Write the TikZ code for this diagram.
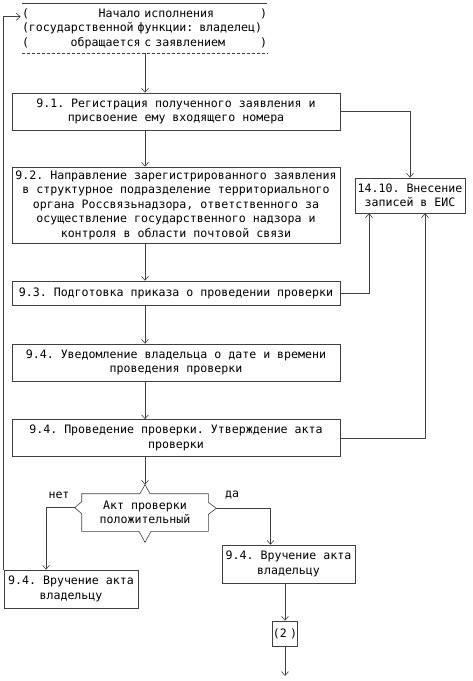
\documentclass[tikz,border=0pt]{standalone}
\usepackage{fontspec}
\setmonofont{DejaVu Sans Mono}
\usepackage{tikz}
\usetikzlibrary{arrows.meta, positioning, calc}

\begin{document}
\begin{tikzpicture}[
    x=1pt, y=-1pt,
    font=\fontsize{11.6}{14.5}\selectfont\ttfamily,
    line width=0.6pt,
    box/.style={draw=black!75, inner xsep=2pt, inner ysep=0pt, align=center,
                minimum height=37pt},
    flow/.style={draw=black!75, -{Straight Barb[length=4pt,width=7pt]}},
    lbl/.style={inner sep=1pt},
  ]
  \useasboundingbox (0,0) rectangle (473,681);
  \coordinate (col) at (145,0);

  % start of the procedure: open block with brackets
  \node[align=left, text width=245pt, inner sep=0pt, minimum height=49pt] (start) at (144.5,28.5)
    {(\hspace{6em}Начало исполнения\hfill)\\
     (государственной функции: владелец)\\
     (\hspace{3.6em}обращается с заявлением\hfill)};
  \draw[black!75] (start.north west) -- (start.north east);
  \draw[black!75, densely dashed] (start.south west) -- (start.south east);

  \node[box, minimum width=328pt] (s91) at (176,111.5)
    {9.1. Регистрация полученного заявления и\\присвоение ему входящего номера};
  \node[box, minimum width=328pt, minimum height=76pt] (s92) at (176,205)
    {9.2. Направление зарегистрированного заявления\\
     в структурное подразделение территориального\\
     органа Россвязьнадзора, ответственного за\\
     осуществление государственного надзора и\\
     контроля в области почтовой связи};
  \node[box, minimum width=328pt, minimum height=24pt] (s93) at (176,293)
    {9.3. Подготовка приказа о проведении проверки};
  \node[box, minimum width=328pt] (s94a) at (176,362.5)
    {9.4. Уведомление владельца о дате и времени\\проведения проверки};
  \node[box, minimum width=328pt] (s94b) at (176,438)
    {9.4. Проведение проверки. Утверждение акта\\проверки};
  \node[box, minimum width=110pt, minimum height=35pt] (eis) at (410,195.5)
    {14.10. Внесение\\записей в ЕИС};

  % decision
  \node[align=center, minimum width=126pt, minimum height=37pt, inner sep=0pt] (dec) at (145,512.5)
    {Акт проверки\\положительный};
  \draw[black!75] (dec.north west) -- ++(0,8) -- ++(-7,6) coordinate (dl) -- ++(7,6)
    -- (dec.south west) -- ($(dec.south)+(-6,0)$) -- ++(6,11) -- ++(6,-11)
    -- (dec.south east) -- ++(0,-17) -- ++(8,-6) coordinate (dr) -- ++(-8,-6)
    -- (dec.north east) -- ($(dec.north)+(5,0)$) -- ++(-5,-9) coordinate (dt) -- ++(-5,9)
    -- cycle;
  \node[lbl] (no) at (59,495) {нет};
  \node[lbl] (yes) at (232,495) {да};

  \node[box, minimum width=134pt, minimum height=38pt] (v1) at (71,589)
    {9.4. Вручение акта\\владельцу};
  \node[box, minimum width=133pt, minimum height=38pt] (v2) at (288.5,564)
    {9.4. Вручение акта\\владельцу};
  \node[box, minimum width=21pt, minimum height=25pt, inner sep=0pt] (conn) at (285,633.5)
    {(2\hspace{0.3em})};
  \coordinate (fin) at (285,676);

  % main column
  \draw[flow] (start.south -| col) -- (s91.north -| col);
  \draw[flow] (s91.south -| col) -- (s92.north -| col);
  \draw[flow] (s92.south -| col) -- (s93.north -| col);
  \draw[flow] (s93.south -| col) -- (s94a.north -| col);
  \draw[flow] (s94a.south -| col) -- (s94b.north -| col);
  \draw[flow] (s94b.south -| col) -- (dt);

  % records in EIS
  \draw[flow] (s91.east) -| (eis.north);
  \draw[flow] (s93.east) -| ([xshift=-41pt]eis.south);
  \draw[flow] (s94b.east) -| ([xshift=15pt]eis.south);

  % branches
  \draw[flow] (dl) -| ([xshift=-25pt]v1.north);
  \draw[flow] (dr) -| ([xshift=-18pt]v2.north);
  \draw[flow] (v2.south -| conn) -- (conn.north);
  \draw[flow] (conn.south) -- (fin);
  \draw[flow] (v1.north west) |- ([xshift=-1pt,yshift=-13pt]start.north west);
\end{tikzpicture}
\end{document}
